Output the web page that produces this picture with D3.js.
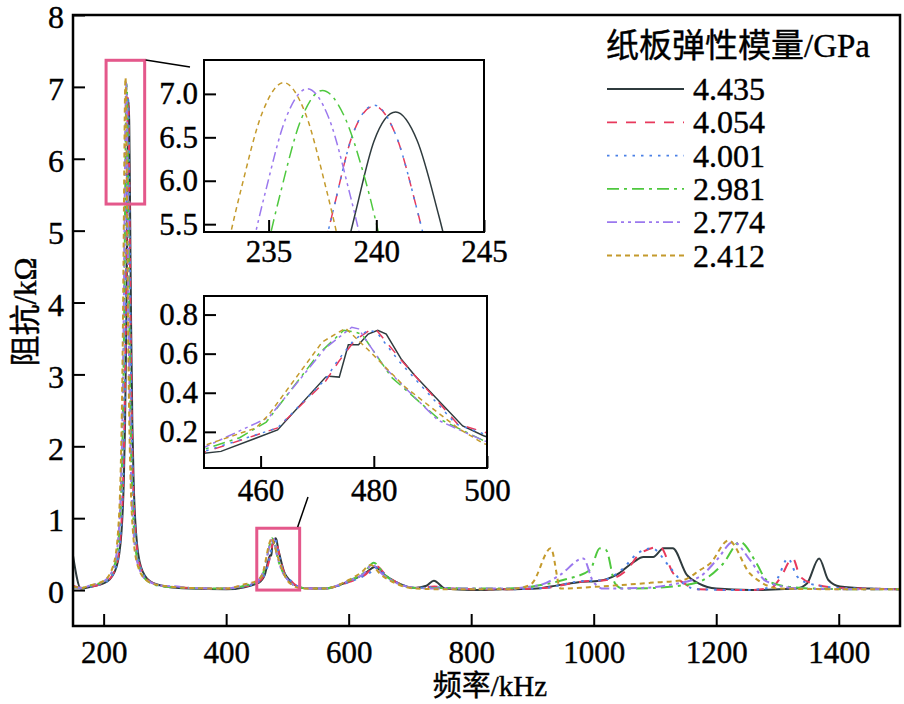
<!DOCTYPE html>
<html>
<head>
<meta charset="utf-8">
<script src="https://cdn.jsdelivr.net/npm/d3@7"></script>
<style>
body { margin: 0; background: #fff; }
svg { display: block; }
text { font-family: "Liberation Serif", "Times New Roman", "Noto Sans CJK SC", serif; fill: #000; stroke: #000; stroke-width: 0.4px; }
</style>
</head>
<body>
<div id="chart"></div>
<script>
// tick labels
var xTicks = [200, 400, 600, 800, 1000, 1200, 1400];
var yTicks = [0, 1, 2, 3, 4, 5, 6, 7, 8];
var in1XTicks = [235, 240, 245];
var in1YTicks = [5.5, 6.0, 6.5, 7.0];
var in2XTicks = [460, 480, 500];
var in2YTicks = [0.2, 0.4, 0.6, 0.8];

// legend
var legendTitle = "纸板弹性模量/GPa";
var names = ["4.435", "4.054", "4.001", "2.981", "2.774", "2.412"];

// impedance (kOhm) vs frequency (kHz), one array per modulus
var s4435 = [[150,0.48],[163,0.02],[181,0.05],[206,0.12],[221,0.32],[229,0.79],[233,1.54],[235,2.32],[237,3.66],[238,4.59],[239,5.6],[239.9,6.46],[240.9,6.79],[241.9,6.46],[242.9,5.6],[243.9,4.59],[244.9,3.66],[246.9,2.32],[248.9,1.54],[253,0.79],[261,0.32],[276,0.12],[301,0.05],[340,0.02],[400,0.01],[430,0.04],[450,0.09],[453,0.10],[463,0.21],[471.5,0.48],[472.1,0.485],[473.9,0.48],[475.5,0.645],[477.3,0.645],[479,0.70],[480.7,0.72],[482.2,0.70],[484.9,0.57],[487.2,0.49],[495.7,0.23],[499.4,0.18],[510,0.08],[525,0.03],[560,0.02],[600,0.12],[625,0.22],[643,0.32],[660,0.2],[680,0.1],[708,0.03],[727,0.06],[739,0.13],[758,0.02],[800,0.0],[850,0.01],[907,0.02],[930,0.05],[975,0.11],[1010,0.13],[1037,0.21],[1065,0.39],[1081,0.46],[1097,0.46],[1114,0.58],[1129,0.58],[1152,0.21],[1172,0.09],[1200,0.02],[1255,0.0],[1331,0.02],[1348,0.09],[1368,0.44],[1383,0.14],[1402,0.05],[1450,0.02],[1500,0.01]];
var s4054 = [[150,0.06],[165,0.03],[180,0.05],[205,0.12],[220,0.32],[228,0.80],[232,1.56],[234,2.35],[236,3.70],[237,4.63],[238,5.66],[238.9,6.53],[239.9,6.86],[240.9,6.53],[241.9,5.66],[242.9,4.63],[243.9,3.70],[245.9,2.35],[247.9,1.56],[252,0.80],[260,0.32],[275,0.12],[300,0.05],[340,0.03],[400,0.02],[430,0.05],[450,0.095],[463,0.22],[471.5,0.46],[473.8,0.56],[476.7,0.67],[479.3,0.72],[480.5,0.72],[484.9,0.565],[494.8,0.24],[499.4,0.2],[510,0.09],[525,0.03],[560,0.02],[600,0.11],[625,0.2],[645,0.33],[662,0.2],[685,0.08],[710,0.03],[740,0.05],[770,0.02],[850,0.01],[920,0.03],[983,0.12],[1021,0.14],[1054,0.28],[1076,0.51],[1108,0.6],[1130,0.23],[1152,0.07],[1172,0.01],[1250,0.0],[1290,0.03],[1304,0.16],[1325,0.44],[1337,0.19],[1358,0.09],[1400,0.03],[1450,0.02],[1500,0.01]];
var s4001 = [[150,0.04],[165,0.03],[180,0.05],[205,0.12],[220,0.32],[228,0.80],[232,1.56],[234,2.36],[236,3.70],[237,4.63],[238,5.66],[238.9,6.53],[239.9,6.87],[240.9,6.53],[241.9,5.66],[242.9,4.63],[243.9,3.70],[245.9,2.36],[247.9,1.56],[252,0.80],[260,0.32],[275,0.12],[300,0.05],[340,0.03],[400,0.02],[430,0.05],[450,0.1],[463,0.22],[471.5,0.47],[473.5,0.56],[476.5,0.67],[479,0.72],[480.5,0.71],[484.5,0.56],[494.5,0.24],[499.4,0.19],[510,0.09],[525,0.03],[560,0.02],[600,0.11],[625,0.2],[637,0.26],[642,0.31],[648,0.3],[662,0.19],[685,0.08],[710,0.03],[740,0.04],[770,0.02],[850,0.01],[920,0.03],[975,0.12],[1015,0.14],[1048,0.3],[1070,0.5],[1095,0.58],[1124,0.32],[1148,0.08],[1170,0.01],[1250,0.0],[1285,0.03],[1300,0.16],[1317,0.44],[1332,0.19],[1352,0.09],[1400,0.03],[1450,0.02],[1500,0.01]];
var s2981 = [[150,0.04],[165,0.03],[177.5,0.06],[202.5,0.13],[217.5,0.33],[225.5,0.82],[229.5,1.6],[231.5,2.41],[233.5,3.79],[234.5,4.76],[235.5,5.81],[236.5,6.70],[237.5,7.04],[238.5,6.75],[239.5,6.0],[240.5,5.0],[241.5,4.1],[243.5,2.6],[245.5,1.7],[249.5,0.85],[257.5,0.33],[272.5,0.12],[297.5,0.05],[340,0.03],[400,0.02],[430,0.06],[450,0.11],[456.3,0.17],[461,0.25],[470.3,0.6],[474.7,0.72],[476.7,0.71],[477.9,0.70],[483.1,0.48],[491.3,0.27],[499.4,0.155],[510,0.07],[525,0.03],[560,0.02],[600,0.13],[625,0.24],[641,0.38],[658,0.22],[680,0.09],[710,0.03],[750,0.03],[800,0.02],[850,0.02],[900,0.05],[950,0.14],[994,0.28],[1010,0.58],[1020,0.56],[1035,0.09],[1048,0.02],[1100,0.03],[1140,0.06],[1174,0.12],[1211.5,0.37],[1238.7,0.67],[1266,0.37],[1282,0.14],[1315,0.05],[1360,0.02],[1450,0.01],[1500,0.01]];
var s2774 = [[150,0.04],[165,0.03],[176.8,0.06],[201.8,0.13],[216.8,0.33],[224.8,0.82],[228.8,1.6],[230.8,2.42],[232.8,3.8],[233.8,4.77],[234.8,5.82],[235.8,6.72],[236.8,7.06],[237.8,6.72],[238.8,5.82],[239.8,4.77],[240.8,3.8],[242.8,2.42],[244.8,1.6],[248.8,0.82],[256.8,0.33],[271.8,0.13],[296.8,0.06],[320,0.05],[340,0.03],[400,0.02],[430,0.07],[450,0.12],[461.5,0.275],[471.5,0.63],[476.1,0.735],[477.3,0.727],[481.9,0.53],[491.3,0.26],[499.4,0.155],[510,0.07],[525,0.03],[560,0.02],[600,0.13],[625,0.23],[638,0.35],[655,0.22],[680,0.09],[710,0.03],[750,0.02],[850,0.02],[912,0.07],[945,0.21],[983,0.44],[999,0.12],[1016,0.02],[1080,0.03],[1130,0.08],[1174,0.19],[1201,0.42],[1228,0.67],[1255,0.42],[1282,0.12],[1337,0.02],[1450,0.01],[1500,0.01]];
var s2412 = [[150,0.05],[165,0.03],[175.7,0.06],[200.7,0.13],[215.7,0.34],[223.7,0.83],[227.7,1.62],[229.7,2.44],[231.7,3.84],[232.7,4.82],[233.7,5.88],[234.7,6.78],[235.7,7.13],[236.7,6.78],[237.7,5.88],[238.7,4.82],[239.7,3.84],[241.7,2.44],[243.7,1.62],[247.7,0.83],[255.7,0.34],[270.7,0.13],[295.7,0.06],[340,0.03],[400,0.02],[430,0.08],[450,0.13],[459.2,0.22],[461.5,0.29],[470.9,0.66],[475,0.73],[476.1,0.70],[479,0.62],[485.5,0.43],[494.8,0.22],[499.4,0.14],[510,0.06],[525,0.02],[560,0.02],[600,0.14],[620,0.24],[636,0.35],[652,0.22],[680,0.08],[710,0.02],[760,0.01],[850,0.01],[880,0.03],[899,0.09],[930,0.58],[946,0.02],[1010,0.05],[1092,0.1],[1146,0.14],[1174,0.28],[1190,0.37],[1220,0.69],[1255,0.23],[1271,0.12],[1304,0.02],[1450,0.01],[1500,0.01]];

var allSeries = [s4435, s4054, s4001, s2981, s2774, s2412];
var colors = ["#2f3b3e", "#e8395c", "#4a80e6", "#4ec83e", "#9b78ee", "#c49a2c"];
var dashes = [null, "10,9", "2.5,6", "12,5,3,5", "10,4,3,4,3,4", "5,4"];

var svg = d3.select("#chart")
    .append("svg")
    .attr("width", 904)
    .attr("height", 704);

var defs = svg.append("defs");

var x = d3.scaleLinear().domain([150, 1500]).range([73, 900]);
var y = d3.scaleLinear().domain([-0.5, 8]).range([626, 15]);

// inset scales
var x1 = d3.scaleLinear().domain([232, 245]).range([204, 484]);
var y1 = d3.scaleLinear().domain([5.41, 7.39]).range([232, 60]);
var x2 = d3.scaleLinear().domain([450, 500]).range([204, 487]);
var y2 = d3.scaleLinear().domain([0.015, 0.895]).range([468, 296]);

function addClip(id, xs, ys) {
    defs.append("clipPath").attr("id", id)
        .append("rect")
        .attr("x", xs.range()[0])
        .attr("y", ys.range()[1])
        .attr("width", xs.range()[1] - xs.range()[0])
        .attr("height", ys.range()[0] - ys.range()[1]);
}
addClip("clip-main", x, y);
addClip("clip-in1", x1, y1);
addClip("clip-in2", x2, y2);

function drawLines(g, xs, ys, clip, curve, width) {
    var line = d3.line()
        .x(function (d) { return xs(d[0]); })
        .y(function (d) { return ys(d[1]); })
        .curve(curve);
    g.append("g")
        .attr("clip-path", "url(#" + clip + ")")
        .selectAll("path")
        .data(allSeries)
        .enter()
        .append("path")
        .attr("d", line)
        .attr("fill", "none")
        .attr("stroke", function (d, i) { return colors[i]; })
        .attr("stroke-width", width)
        .attr("stroke-dasharray", function (d, i) { return dashes[i]; });
}

function styleAxis(g, size) {
    g.attr("font-family", null).attr("font-size", size);
    g.select(".domain").remove();
    g.selectAll(".tick line").attr("stroke", "#000").attr("stroke-width", 2);
}

// main plot
drawLines(svg, x, y, "clip-main", d3.curveMonotoneX, 2);

svg.append("g")
    .attr("transform", "translate(0,626)")
    .call(d3.axisBottom(x).tickValues(xTicks).tickFormat(d3.format("d")).tickSizeInner(-12).tickSizeOuter(0).tickPadding(15))
    .call(styleAxis, 31);

svg.append("g")
    .attr("transform", "translate(73,0)")
    .call(d3.axisLeft(y).tickValues(yTicks).tickSizeInner(-12).tickSizeOuter(0).tickPadding(9))
    .call(styleAxis, 32)
    .selectAll(".tick text").attr("dy", "0.4em");

svg.append("rect")
    .attr("x", 73).attr("y", 15)
    .attr("width", 827).attr("height", 611)
    .attr("fill", "none").attr("stroke", "#000").attr("stroke-width", 2.5);

svg.append("text")
    .attr("x", 490).attr("y", 696)
    .attr("text-anchor", "middle")
    .attr("font-size", 29)
    .text("频率/kHz");

svg.append("text")
    .attr("transform", "translate(36,312) rotate(-90)")
    .attr("text-anchor", "middle")
    .attr("font-size", 31)
    .text("阻抗/kΩ");

// pink zoom boxes + pointers
var pink = "#e4588b";
svg.append("rect")
    .attr("x", x(204)).attr("y", y(7.37))
    .attr("width", x(267) - x(204)).attr("height", y(5.37) - y(7.37))
    .attr("fill", "none").attr("stroke", pink).attr("stroke-width", 3);
svg.append("rect")
    .attr("x", x(450)).attr("y", y(0.86))
    .attr("width", x(520) - x(450)).attr("height", y(0) - y(0.86))
    .attr("fill", "none").attr("stroke", pink).attr("stroke-width", 3);
svg.append("line")
    .attr("x1", x(267) + 1).attr("y1", 60).attr("x2", 190).attr("y2", 67)
    .attr("stroke", "#000").attr("stroke-width", 1.5);
svg.append("line")
    .attr("x1", x(520) - 2).attr("y1", 527).attr("x2", 308).attr("y2", 497)
    .attr("stroke", "#000").attr("stroke-width", 1.5);

// insets
function drawInset(xs, ys, clip, curve, xt, yt, fmt, xpad) {
    var g = svg.append("g");
    g.append("rect")
        .attr("x", xs.range()[0]).attr("y", ys.range()[1])
        .attr("width", xs.range()[1] - xs.range()[0])
        .attr("height", ys.range()[0] - ys.range()[1])
        .attr("fill", "#fff");
    drawLines(g, xs, ys, clip, curve, 1.5);
    g.append("g")
        .attr("transform", "translate(0," + ys.range()[0] + ")")
        .call(d3.axisBottom(xs).tickValues(xt).tickSizeInner(-12).tickSizeOuter(0).tickPadding(xpad))
        .call(styleAxis, 31);
    g.append("g")
        .attr("transform", "translate(" + xs.range()[0] + ",0)")
        .call(d3.axisLeft(ys).tickValues(yt).tickFormat(d3.format(fmt)).tickSizeInner(-12).tickSizeOuter(0).tickPadding(6))
        .call(styleAxis, 31);
    g.append("rect")
        .attr("x", xs.range()[0]).attr("y", ys.range()[1])
        .attr("width", xs.range()[1] - xs.range()[0])
        .attr("height", ys.range()[0] - ys.range()[1])
        .attr("fill", "none").attr("stroke", "#000").attr("stroke-width", 2);
}
drawInset(x1, y1, "clip-in1", d3.curveMonotoneX, in1XTicks, in1YTicks, ".1f", 8);
drawInset(x2, y2, "clip-in2", d3.curveLinear, in2XTicks, in2YTicks, ".1f", 11);

// legend
var legend = svg.append("g");
legend.append("text")
    .attr("x", 606).attr("y", 57)
    .attr("font-size", 33)
    .text(legendTitle);
var rows = legend.selectAll(".row")
    .data(names)
    .enter()
    .append("g")
    .attr("class", "row")
    .attr("transform", function (d, i) { return "translate(0," + (89 + i * 33.3) + ")"; });
rows.append("line")
    .attr("x1", 607).attr("x2", 684)
    .attr("stroke", function (d, i) { return colors[i]; })
    .attr("stroke-width", 1.8)
    .attr("stroke-dasharray", function (d, i) { return dashes[i]; });
rows.append("text")
    .attr("x", 693).attr("y", 11)
    .attr("font-size", 32)
    .text(function (d) { return d; });
</script>
</body>
</html>
